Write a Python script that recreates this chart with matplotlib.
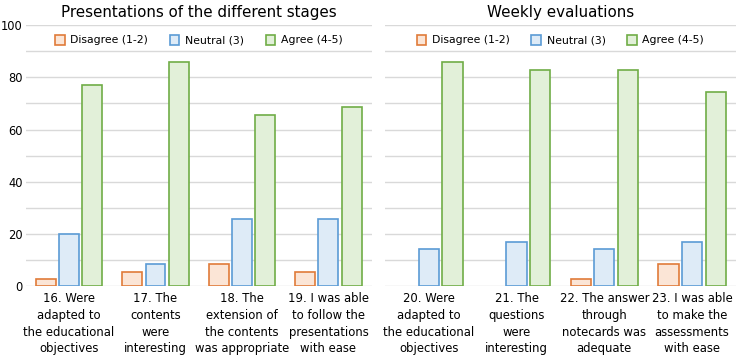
import numpy as np
import matplotlib.pyplot as plt
from matplotlib.patches import Patch

# survey answers, % of students
left_labels = ["16. Were\nadapted to\nthe educational\nobjectives",
               "17. The\ncontents\nwere\ninteresting",
               "18. The\nextension of\nthe contents\nwas appropriate",
               "19. I was able\nto follow the\npresentations\nwith ease"]
left_disagree = [2.9, 5.7, 8.6, 5.7]
left_neutral = [20.0, 8.6, 25.7, 25.7]
left_agree = [77.1, 85.7, 65.7, 68.6]

right_labels = ["20. Were\nadapted to\nthe educational\nobjectives",
                "21. The\nquestions\nwere\ninteresting",
                "22. The answer\nthrough\nnotecards was\nadequate",
                "23. I was able\nto make the\nassessments\nwith ease"]
right_disagree = [0.0, 0.0, 2.9, 8.6]
right_neutral = [14.3, 17.1, 14.3, 17.1]
right_agree = [85.7, 82.9, 82.9, 74.3]

series_names = ["Disagree (1-2)", "Neutral (3)", "Agree (4-5)"]
fills = ["#fbe5d6", "#deebf7", "#e2f0d9"]
edges = ["#e07b39", "#5b9bd5", "#70ad47"]

plt.rcParams['font.family'] = ['DejaVu Sans']

fig = plt.figure(figsize=(7.36, 3.58), dpi=100)
ax1 = fig.add_axes([0.035, 0.20, 0.470, 0.73])
ax2 = fig.add_axes([0.523, 0.20, 0.477, 0.73])


def draw(ax, title, labels, series, show_y):
    x = np.arange(len(labels))
    w = 0.23
    offs = [-0.27, 0, 0.27]
    for vals, off, fc, ec in zip(series, offs, fills, edges):
        lw = [1.2 if v > 0 else 0 for v in vals]
        ax.bar(x + off, vals, w, color=fc, edgecolor=ec, linewidth=lw, zorder=3)
    ax.set_xlim(-0.5, len(labels) - 0.5)
    ax.set_ylim(0, 100)
    ax.set_yticks(np.arange(0, 101, 10))
    ax.set_yticklabels([str(v) if v % 20 == 0 else "" for v in range(0, 101, 10)])
    ax.grid(axis='y', color='#d9d9d9', linewidth=1, zorder=0)
    ax.tick_params(axis='y', length=0, labelsize=8.3, pad=2)
    ax.tick_params(axis='x', length=0, labelsize=8.4, pad=4)
    if not show_y:
        ax.tick_params(axis='y', labelleft=False)
    ax.set_xticks(x)
    ax.set_xticklabels(labels, linespacing=1.38)
    for s in ax.spines.values():
        s.set_visible(False)
    ax.set_title(title, fontsize=10.9, pad=6)
    handles = [Patch(facecolor=fc, edgecolor=ec, linewidth=1.2) for fc, ec in zip(fills, edges)]
    ax.legend(handles, series_names, loc='upper center', bbox_to_anchor=(0.5, 1.0),
              ncol=3, frameon=False, fontsize=7.8, handlelength=0.9, handleheight=1.0,
              columnspacing=2.0, handletextpad=0.5)


draw(ax1, "Presentations of the different stages", left_labels,
     [left_disagree, left_neutral, left_agree], True)
draw(ax2, "Weekly evaluations", right_labels,
     [right_disagree, right_neutral, right_agree], False)

fig.savefig("out.png", dpi=100)
